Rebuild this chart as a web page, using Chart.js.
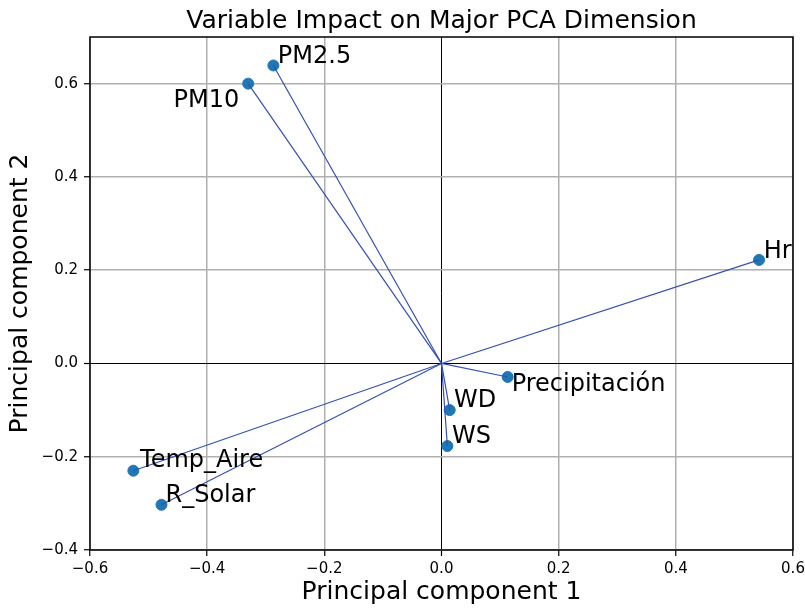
<!DOCTYPE html>
<html>
<head>
<meta charset="utf-8">
<script src="https://cdn.jsdelivr.net/npm/chart.js@4/dist/chart.umd.min.js"></script>
<style>
  html, body { margin: 0; padding: 0; background: #fff; }
  #wrap { width: 805px; height: 608px; position: relative; }
</style>
</head>
<body>
<div id="wrap"><canvas id="pcaChart"></canvas></div>
<script>
// Loadings
const variables = ['PM2.5', 'PM10', 'Hr', 'Precipitación', 'WD', 'WS', 'Temp_Aire', 'R_Solar'];
const pc1 = [-0.287, -0.330, 0.542, 0.113, 0.014, 0.010, -0.526, -0.478];
const pc2 = [0.639, 0.600, 0.222, -0.029, -0.100, -0.177, -0.230, -0.303];

const xTicks = [-0.6, -0.4, -0.2, 0.0, 0.2, 0.4, 0.6];
const yTicks = [-0.4, -0.2, 0.0, 0.2, 0.4, 0.6];

const chartTitle = 'Variable Impact on Major PCA Dimension';

// label placement in pixels relative to each point (dx, dy, align)
const labelOffsets = [
    [4.5, -2, 'left'],
    [-9, 23, 'right'],
    [4.7, -1.7, 'left'],
    [4, 13.7, 'left'],
    [4.4, -2.6, 'left'],
    [4.6, -2.7, 'left'],
    [6.7, -3.4, 'left'],
    [4, -3, 'left']
];

const FONT = "'DejaVu Sans', sans-serif";

// one line dataset per variable, origin -> loading
const lineSets = variables.map((name, i) => ({
    type: 'line',
    label: name,
    data: [{ x: 0, y: 0 }, { x: pc1[i], y: pc2[i] }],
    borderColor: '#3550b0',
    borderWidth: 1.2,
    pointRadius: 0,
    fill: false,
    order: 1
}));

const pointSet = {
    type: 'scatter',
    label: 'loadings',
    data: variables.map((name, i) => ({ x: pc1[i], y: pc2[i] })),
    backgroundColor: '#1f77b4',
    borderColor: '#1f77b4',
    pointRadius: 5.5,
    order: 2
};

const framePlugin = {
    id: 'frame',
    afterDatasetsDraw(chart) {
        const ctx = chart.ctx;
        const area = chart.chartArea;
        const xs = chart.scales.x;
        const ys = chart.scales.y;

        ctx.save();
        ctx.font = '24px ' + FONT;
        ctx.fillStyle = '#000';
        ctx.textBaseline = 'alphabetic';
        variables.forEach((name, i) => {
            const px = xs.getPixelForValue(pc1[i]);
            const py = ys.getPixelForValue(pc2[i]);
            const off = labelOffsets[i];
            ctx.textAlign = off[2];
            ctx.fillText(name, px + off[0], py + off[1]);
        });

        // title centred over the plot area
        ctx.font = '25px ' + FONT;
        ctx.textAlign = 'center';
        ctx.fillText(chartTitle, (area.left + area.right) / 2, area.top - 9);

        ctx.strokeStyle = '#000';
        ctx.lineWidth = 1.5;
        ctx.strokeRect(area.left, area.top, area.right - area.left, area.bottom - area.top);
        ctx.restore();
    }
};

const gridOpts = {
    color: ctx => (ctx.tick && ctx.tick.value === 0 ? '#000' : '#b0b0b0'),
    lineWidth: ctx => (ctx.tick && ctx.tick.value === 0 ? 1 : 1.5),
    tickColor: '#000',
    tickWidth: 1.2,
    tickLength: 6,
    drawTicks: true
};

const tickFormat = v => (v < 0 ? '\u2212' + Math.abs(v).toFixed(1) : v.toFixed(1));

new Chart(document.getElementById('pcaChart'), {
    data: {
        datasets: [...lineSets, pointSet]
    },
    options: {
        responsive: true,
        maintainAspectRatio: false,
        animation: false,
        layout: { padding: { left: 0, right: 12, top: 37, bottom: 0 } },
        plugins: {
            legend: { display: false },
            tooltip: { enabled: false },
            title: { display: false }
        },
        scales: {
            x: {
                type: 'linear',
                min: -0.6,
                max: 0.6,
                afterFit: s => { s.height = 58; s.paddingLeft = 0; s.paddingRight = 0; },
                afterBuildTicks: s => { s.ticks = xTicks.map(v => ({ value: v })); },
                grid: gridOpts,
                border: { display: false },
                ticks: {
                    color: '#000',
                    padding: 4,
                    font: { family: FONT, size: 15 },
                    callback: tickFormat
                },
                title: {
                    display: true,
                    text: 'Principal component 1',
                    color: '#000',
                    font: { family: FONT, size: 25, lineHeight: 1.2 },
                    padding: { top: 0, bottom: 1 }
                }
            },
            y: {
                type: 'linear',
                min: -0.4,
                max: 0.7,
                afterFit: s => { s.width = 90; s.paddingTop = 0; s.paddingBottom = 0; },
                afterBuildTicks: s => { s.ticks = yTicks.map(v => ({ value: v })); },
                grid: gridOpts,
                border: { display: false },
                ticks: {
                    color: '#000',
                    padding: 6,
                    font: { family: FONT, size: 15 },
                    callback: tickFormat
                },
                title: {
                    display: true,
                    text: 'Principal component 2',
                    color: '#000',
                    font: { family: FONT, size: 25, lineHeight: 1.2 },
                    padding: { top: 5, bottom: 0 }
                }
            }
        }
    },
    plugins: [framePlugin]
});
</script>
</body>
</html>
